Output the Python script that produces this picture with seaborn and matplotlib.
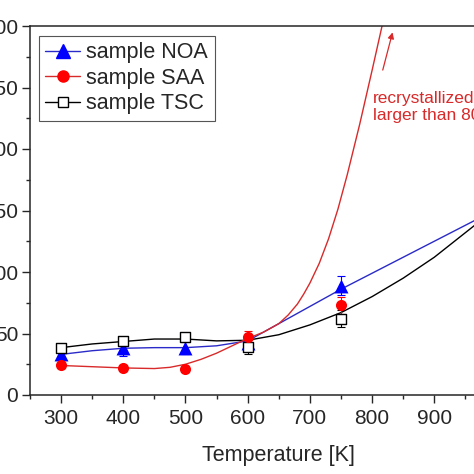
import pandas as pd
import matplotlib.pyplot as plt
from matplotlib.lines import Line2D
from matplotlib.ticker import MultipleLocator
import seaborn as sns

# measured grain sizes with error bars
temps = [300, 400, 500, 600, 750]
noa_size = [33, 38, 38, 42, 89]
noa_err = [3, 6, 5, 5, 8]
saa_size = [24, 22, 21, 47, 73]
saa_err = [2, 2, 2, 5, 7]
tsc_size = [38, 44, 47, 39, 62]
tsc_err = [3, 3, 3, 6, 7]

# smooth guide curves
noa_curve_t = [300, 350, 400, 450, 500, 550, 600, 650, 700, 750, 800, 850, 900, 950, 1000]
noa_curve_y = [33, 36, 38, 38.5, 38.5, 40, 44, 58, 72, 86, 99, 112, 125, 138, 151]
tsc_curve_t = [300, 350, 400, 450, 500, 550, 600, 650, 700, 750, 800, 850, 900, 950, 1000]
tsc_curve_y = [38.5, 41.5, 43.5, 45.5, 45.5, 44, 44.5, 49, 57, 67, 80, 95, 112, 132, 152]
saa_curve_t = [300, 350, 400, 450, 475, 500, 525, 550, 575, 600, 625, 650, 665, 680,
               690, 700, 715, 730, 745, 760, 780, 800, 816, 840]
saa_curve_y = [24, 23, 22, 21.5, 22.5, 25, 29, 34, 40, 46, 51, 58, 65, 74,
               82, 91, 107, 127, 151, 179, 220, 264, 300, 355]

labels = ["sample NOA", "sample SAA", "sample TSC"]
note = "recrystallized\nlarger than 800 nm"

BLUE, RED, BLACK = "#0000ff", "#ff0000", "#000000"
BLUE_LINE, RED_LINE = "#2a2ac8", "#d82a2a"

sns.set_style("ticks")
plt.rcParams["font.family"] = ["Liberation Sans", "DejaVu Sans"]

fig = plt.figure(figsize=(4.74, 4.74), dpi=100)
ax = fig.add_axes([30 / 474, 79 / 474, 497.6 / 474, 369 / 474])

# guide curves
sns.lineplot(x=noa_curve_t, y=noa_curve_y, color=BLUE_LINE, lw=1.0, ax=ax, zorder=2)
sns.lineplot(x=tsc_curve_t, y=tsc_curve_y, color=BLACK, lw=1.0, ax=ax, zorder=2)
sns.lineplot(x=saa_curve_t, y=saa_curve_y, color=RED_LINE, lw=1.0, ax=ax, zorder=2)

# error bars
for vals, errs, c in [(noa_size, noa_err, BLUE), (tsc_size, tsc_err, BLACK), (saa_size, saa_err, RED)]:
    ax.errorbar(temps, vals, yerr=errs, fmt="none", ecolor=c, elinewidth=0.8,
                capsize=3, capthick=0.8, zorder=3)

# markers
pts = pd.DataFrame({"T": temps, "noa": noa_size, "saa": saa_size, "tsc": tsc_size})
sns.scatterplot(data=pts, x="T", y="noa", marker="^", s=100, color=BLUE,
                edgecolor=BLUE, linewidth=0, ax=ax, zorder=4)
sns.scatterplot(data=pts, x="T", y="tsc", marker="s", s=49, facecolor="white",
                edgecolor=BLACK, linewidth=1, ax=ax, zorder=5)
sns.scatterplot(data=pts, x="T", y="saa", marker="o", s=64, color=RED,
                edgecolor=RED, linewidth=0, ax=ax, zorder=6)

ax.set_xlim(250, 1050)
ax.set_ylim(0, 300)
ax.xaxis.set_major_locator(MultipleLocator(100))
ax.xaxis.set_minor_locator(MultipleLocator(50))
ax.yaxis.set_major_locator(MultipleLocator(50))
ax.yaxis.set_minor_locator(MultipleLocator(25))
ax.tick_params(which="major", direction="out", length=5.5, width=1, labelsize=15, pad=3)
ax.tick_params(axis="x", which="major", pad=4.5)
ax.tick_params(which="minor", direction="out", length=3, width=1)
for sp in ax.spines.values():
    sp.set_linewidth(1.1)
    sp.set_visible(True)
ax.set_xlabel("Temperature [K]", fontsize=15.5, labelpad=12)
ax.set_ylabel("")

# annotation for the SAA sample
ax.annotate("", xy=(834, 297), xytext=(816, 262),
            arrowprops=dict(arrowstyle="-|>", color=RED_LINE, lw=0.9, mutation_scale=9))
ax.text(801, 234, note, color=RED_LINE, fontsize=12.5, va="center", ha="left",
        linespacing=1.12)

handles = [
    Line2D([], [], color=BLUE_LINE, lw=1, marker="^", ms=10, mfc=BLUE, mec=BLUE),
    Line2D([], [], color=RED_LINE, lw=1, marker="o", ms=8, mfc=RED, mec=RED),
    Line2D([], [], color=BLACK, lw=1, marker="s", ms=7, mfc="white", mec=BLACK),
]
leg = ax.legend(handles, labels, loc="upper left", bbox_to_anchor=(9 / 497.6, 1 - 10 / 369),
                borderaxespad=0, fontsize=15.5, handlelength=1.6, handletextpad=0.3,
                labelspacing=0.2, borderpad=0.3, fancybox=False, framealpha=1,
                edgecolor="#555555")
leg.get_frame().set_linewidth(0.8)

fig.savefig("out.png", dpi=100)
